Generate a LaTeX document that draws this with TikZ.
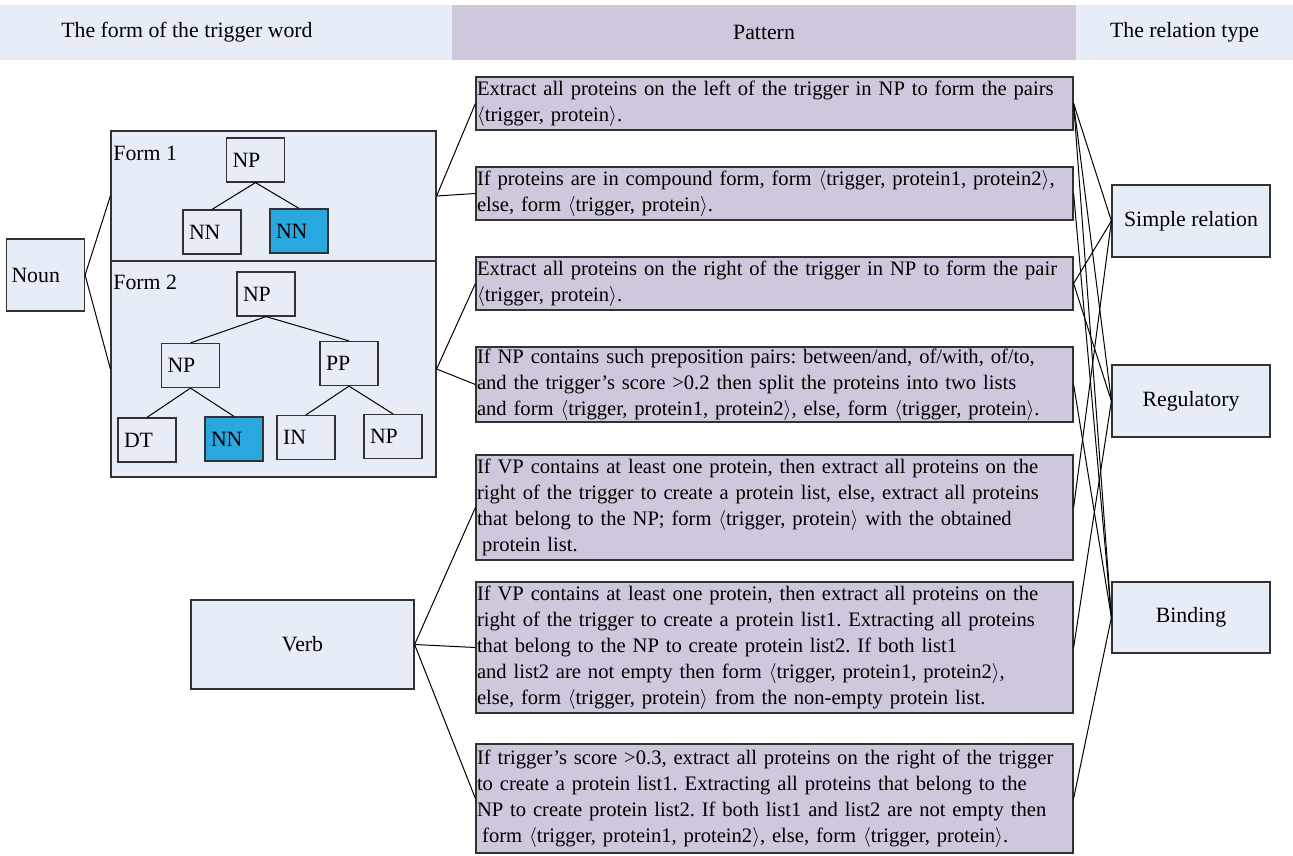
\documentclass[tikz,border=0pt]{standalone}
\usepackage{fontspec}
\setmainfont{Liberation Serif}
\definecolor{paleblue}{RGB}{230,237,246}
\definecolor{lavender}{RGB}{207,200,221}
\definecolor{nnblue}{RGB}{41,168,224}
\definecolor{edgegray}{RGB}{50,50,50}
\newcommand{\pair}[1]{$\langle$#1$\rangle$}
\frenchspacing
\begin{document}
\begin{tikzpicture}[x=0.5pt,y=-0.5pt,
    font=\fontsize{10.9}{13}\selectfont,
    band/.style={fill=#1, inner sep=0pt, minimum height=27.5pt},
    box/.style={draw=edgegray, fill=paleblue, line width=0.6pt, inner sep=0pt},
    treebox/.style={box, minimum width=29pt, minimum height=22pt,
      text width=23pt, inner xsep=3pt, align=left},
    hitbox/.style={treebox, fill=nnblue},
    formbox/.style={box, minimum width=162.5pt},
    patbox/.style={box, fill=lavender, minimum width=298.5pt,
      text width=297.5pt, inner xsep=0.5pt, align=left,
      font=\fontsize{10.3}{13}\selectfont},
    relbox/.style={box, minimum width=79pt, minimum height=36pt},
    link/.style={draw=black, line width=0.5pt}]
  \useasboundingbox (0,0) rectangle (1293,855);
  % header
  \node[band=paleblue, minimum width=226pt] (hleft) at (226,32.5) {};
  \node[band=lavender, minimum width=312pt] (hmid) at (764,32.5) {};
  \node[band=paleblue, minimum width=108.5pt] (hright) at (1184.5,32.5) {};
  \node (hlefttxt) at (187,32.5) {The form of the trigger word};
  \node (hmidtxt) at (hmid) {Pattern};
  \node (hrighttxt) at (hright) {The relation type};
  % trigger forms
  \node[box, minimum width=36.5pt, minimum height=36pt, text width=34pt,
    inner xsep=2.5pt, align=left] (noun) at (45.5,275) {Noun};
  \node[formbox, minimum height=65pt] (form1) at (273.5,196) {};
  \node[formbox, minimum height=108pt] (form2) at (273.5,369) {};
  \node[anchor=west, inner sep=1pt] (form1lbl) at (111,153) {Form 1};
  \node[anchor=west, inner sep=1pt] (form2lbl) at (111,282) {Form 2};
  \node[treebox] (f1np) at (255.5,160) {NP};
  \node[treebox] (f1nn) at (212,232) {NN};
  \node[hitbox] (f1hit) at (299,231) {NN};
  \node[treebox] (f2np) at (266,294) {NP};
  \node[treebox] (f2npl) at (190.5,365.5) {NP};
  \node[treebox] (f2pp) at (349,363.5) {PP};
  \node[treebox] (f2dt) at (147,440) {DT};
  \node[hitbox] (f2hit) at (234,439) {NN};
  \node[treebox] (f2in) at (306,437.5) {IN};
  \node[treebox] (f2npr) at (393,436.5) {NP};
  \node[box, minimum width=111.5pt, minimum height=44.5pt] (verb) at (302.5,644.5) {Verb};
  % patterns
  \node[patbox, minimum height=26.5pt] (p1) at (774.5,103.5)
    {Extract all proteins on the left of the trigger in NP to form the pairs\\
     \pair{trigger, protein}.};
  \node[patbox, minimum height=26.5pt] (p2) at (774.5,193.5)
    {If proteins are in compound form, form \pair{trigger, protein1, protein2},\\
     else, form \pair{trigger, protein}.};
  \node[patbox, minimum height=26.5pt] (p3) at (774.5,283.5)
    {Extract all proteins on the right of the trigger in NP to form the pair\\
     \pair{trigger, protein}.};
  \node[patbox, minimum height=37.5pt] (p4) at (774.5,384.5)
    {If NP contains such preposition pairs: between/and, of/with, of/to,\\
     and the trigger’s score >0.2 then split the proteins into two lists\\
     and form \pair{trigger, protein1, protein2}, else, form \pair{trigger, protein}.};
  \node[patbox, minimum height=52.5pt] (p5) at (774.5,507.5)
    {If VP contains at least one protein, then extract all proteins on the\\
     right of the trigger to create a protein list, else, extract all proteins\\
     that belong to the NP; form \pair{trigger, protein} with the obtained\\
     \hspace*{0.25em}protein list.};
  \node[patbox, minimum height=65.5pt] (p6) at (774.5,647.5)
    {If VP contains at least one protein, then extract all proteins on the\\
     right of the trigger to create a protein list1. Extracting all proteins\\
     that belong to the NP to create protein list2. If both list1\\
     and list2 are not empty then form \pair{trigger, protein1, protein2},\\
     else, form \pair{trigger, protein} from the non-empty protein list.};
  \node[patbox, minimum height=54.5pt] (p7) at (774.5,798.5)
    {If trigger’s score >0.3, extract all proteins on the right of the trigger\\
     to create a protein list1. Extracting all proteins that belong to the\\
     NP to create protein list2. If both list1 and list2 are not empty then\\
     \hspace*{0.25em}form \pair{trigger, protein1, protein2}, else, form \pair{trigger, protein}.};
  % relation types
  \node[relbox] (simple) at (1191,221) {Simple relation};
  \node[relbox] (reg) at (1191,401) {Regulatory};
  \node[relbox, minimum height=35.5pt] (bind) at (1191,617.5) {Binding};
  % connectors
  \foreach \a/\b in {f1np/f1nn,f1np/f1hit,f2np/f2npl,f2np/f2pp,
      f2npl/f2dt,f2npl/f2hit,f2pp/f2in,f2pp/f2npr}
    \draw[link] (\a.south) -- (\b.north);
  \foreach \a/\b in {noun/form1,noun/form2,form1/p1,form1/p2,form2/p3,form2/p4,
      verb/p5,verb/p6,verb/p7,p1/simple,p1/reg,p1/bind,p2/bind,p3/simple,
      p3/reg,p4/bind,p5/simple,p6/reg,p7/bind}
    \draw[link] (\a.east) -- (\b.west);
\end{tikzpicture}
\end{document}
